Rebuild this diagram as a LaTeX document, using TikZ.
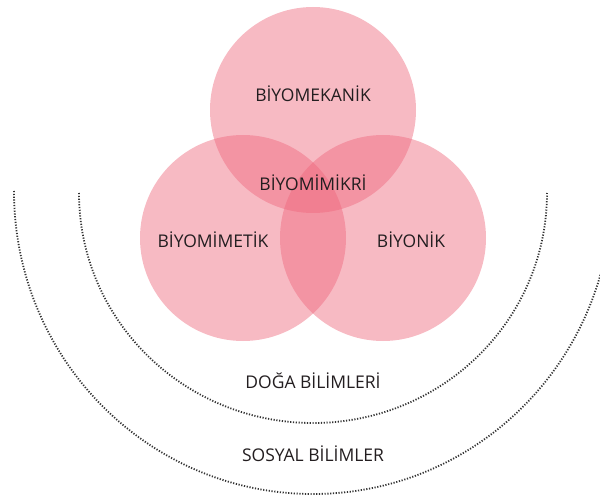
\documentclass[tikz,border=0pt]{standalone}
\usepackage{fontspec}
\setmainfont{Open Sans}
\definecolor{venpink}{RGB}{238,102,123}
\definecolor{labelgray}{RGB}{35,30,32}
\begin{document}
\begin{tikzpicture}[x=1pt, y=-1pt,
    area/.style={circle, draw=none, fill=venpink, fill opacity=0.45, minimum size=206pt, inner sep=0pt, outer sep=0pt},
    lbl/.style={text=labelgray, font=\fontsize{17.5}{20}\selectfont},
    field/.style={draw=black!80, line width=1.8pt, dash pattern=on 1.2pt off 1.6pt}]
                    \useasboundingbox (0,0) rectangle (600,497);
                    \node[area] (Mek) at (313,110) {};
                    \node[area] (Met) at (243,238) {};
                    \node[area] (Yon) at (383,238) {};
                    \node[lbl] (mekanik) at (313,94) {BİYOMEKANİK};
                    \node[lbl] (mimikri) at (313,183) {BİYOMİMİKRİ};
                    \node[lbl] (mimetik) at (213,240) {BİYOMİMETİK};
                    \node[lbl] (bionik) at (411,240) {BİYONİK};
                    \node[lbl] (doga) at (313,381) {DOĞA BİLİMLERİ};
                    \node[lbl] (sosyal) at (313,454) {SOSYAL BİLİMLER};
                    \draw[field] (79,193) arc[start angle=180, end angle=0, x radius=234, y radius=230];
                    \draw[field] (14,191) arc[start angle=180, end angle=0, x radius=299, y radius=303];
                  \end{tikzpicture}
\end{document}
